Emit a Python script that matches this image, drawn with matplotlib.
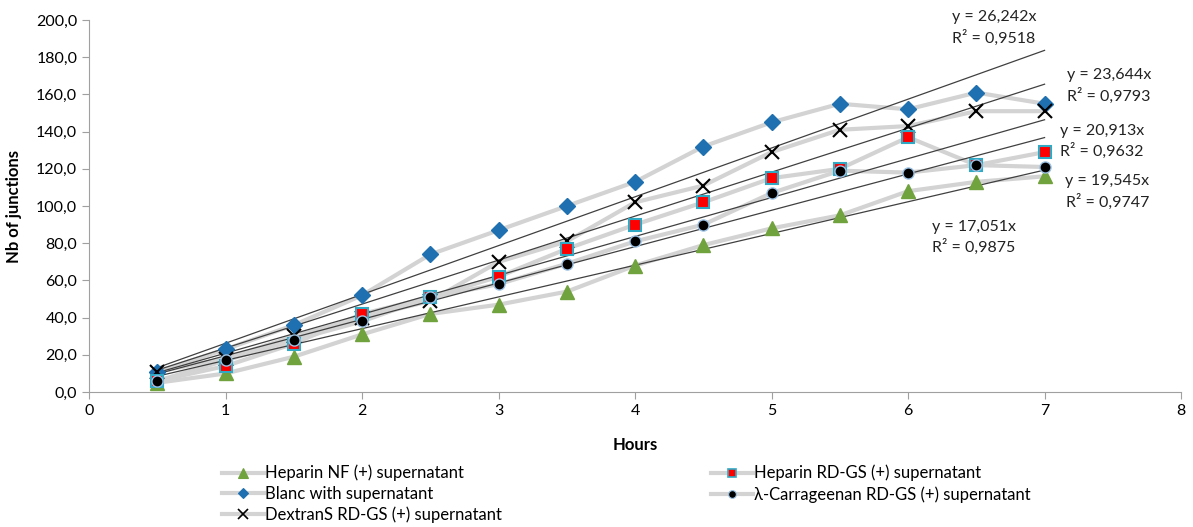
import matplotlib.pyplot as plt
import numpy as np
from matplotlib.ticker import FuncFormatter
from matplotlib.lines import Line2D

plt.rcParams['font.family'] = ['Lato', 'DejaVu Sans']

hours = [0.5, 1, 1.5, 2, 2.5, 3, 3.5, 4, 4.5, 5, 5.5, 6, 6.5, 7]

heparin_nf = [5, 10, 19, 31, 42, 47, 54, 68, 79, 88, 95, 108, 113, 116]
blanc = [11, 23, 36, 52, 74, 87, 100, 113, 132, 145, 155, 152, 161, 155]
dextran = [11, 18, 30, 40, 49, 70, 81, 102, 111, 129, 141, 143, 151, 151]
heparin_rd = [6, 14, 26, 42, 51, 62, 77, 90, 102, 115, 120, 137, 122, 129]
carrageenan = [6, 17, 28, 38, 51, 58, 69, 81, 90, 107, 119, 118, 122, 121]

slopes = [26.242, 23.644, 20.913, 19.545, 17.051]
r2 = ['0,9518', '0,9793', '0,9632', '0,9747', '0,9875']

fig = plt.figure(figsize=(11.93, 5.27), dpi=100)
ax = fig.add_axes([0.0746, 0.256, 0.9154, 0.706])

line_col = '#d3d3d3'
series = [
    ('Heparin NF (+) supernatant', heparin_nf, dict(marker='^', color='#70a23d', mec='#70a23d', ms=10)),
    ('Blanc with supernatant', blanc, dict(marker='D', color='#1f70b0', mec='#1f70b0', ms=8)),
    ('DextranS RD-GS (+) supernatant', dextran, dict(marker='x', color='black', mec='black', ms=10, mew=1.5)),
    ('Heparin RD-GS (+) supernatant', heparin_rd, dict(marker='s', color='#ff0000', mec='#31a9c4', ms=9, mew=1.5)),
    ('λ-Carrageenan RD-GS (+) supernatant', carrageenan, dict(marker='o', color='black', mec='#9dc3e6', ms=8, mew=1)),
]

handles = []
for name, vals, st in series:
    ax.plot(hours, vals, '-', color=line_col, lw=3, zorder=1)
    ax.plot(hours, vals, ls='none', marker=st['marker'], mfc=st['color'], mec=st['mec'],
            ms=st['ms'], mew=st.get('mew', 1), zorder=3)
    handles.append(Line2D([], [], color=line_col, lw=3, marker=st['marker'], mfc=st['color'],
                          mec=st['mec'], ms=st['ms'] * 0.7, mew=st.get('mew', 1) * 0.8))

# linear trend lines through origin
xt = np.array([0.5, 7.0])
for s in slopes:
    ax.plot(xt, s * xt, color='#404040', lw=0.9, zorder=2)

labels_pos = [(6.63, 195.7), (7.47, 164.5), (7.42, 134.6), (7.46, 107.5), (6.48, 83.1)]
for s, r, (lx, ly) in zip(slopes, r2, labels_pos):
    ax.text(lx, ly, 'y = %sx\nR² = %s' % (('%.3f' % s).replace('.', ','), r),
            fontsize=11.5, ha='center', va='center', linespacing=1.4, color='#222222')

ax.set_xlim(0, 8)
ax.set_ylim(0, 200)
ax.set_xticks(range(0, 9))
ax.set_yticks(range(0, 201, 20))
ax.yaxis.set_major_formatter(FuncFormatter(lambda v, p: ('%.1f' % v).replace('.', ',')))
ax.tick_params(labelsize=11.5, color='#a0a0a0', length=5)
for sp in ['top', 'right']:
    ax.spines[sp].set_visible(False)
for sp in ['left', 'bottom']:
    ax.spines[sp].set_color('#a0a0a0')

ax.set_xlabel('Hours', fontsize=12, fontweight='bold', labelpad=14)
ax.set_ylabel('Nb of junctions', fontsize=12, fontweight='bold', labelpad=10)

names = [s[0] for s in series]
leg_kw = dict(loc='upper left', frameon=False, fontsize=12, handlelength=2.5,
              handletextpad=0.1, labelspacing=0.28, borderpad=0, borderaxespad=0)
fig.legend(handles[:3], names[:3], bbox_to_anchor=(0.186, 0.118), **leg_kw)
fig.legend(handles[3:], names[3:], bbox_to_anchor=(0.596, 0.118), **leg_kw)

fig.savefig('out.png', dpi=100)
